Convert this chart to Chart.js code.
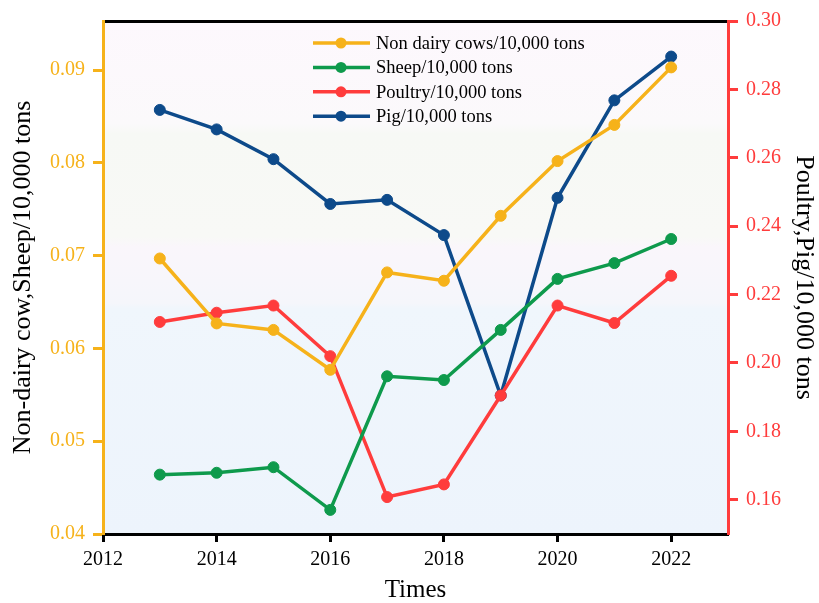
<!DOCTYPE html>
<html>
<head>
<meta charset="utf-8">
<script src="https://cdn.jsdelivr.net/npm/chart.js@4"></script>
<style>
  html, body { margin: 0; padding: 0; background: #fff; }
  #wrap { width: 819px; height: 603px; }
</style>
</head>
<body>
<div id="wrap"><canvas id="chart" width="819" height="603"></canvas></div>
<script>
// Data
const years = [2013, 2014, 2015, 2016, 2017, 2018, 2019, 2020, 2021, 2022];
const nonDairyCows = [0.0697, 0.0627, 0.0620, 0.0577, 0.0682, 0.0673, 0.0743, 0.0802, 0.0841, 0.0903];
const sheep = [0.0464, 0.0466, 0.0472, 0.0426, 0.0570, 0.0566, 0.0620, 0.0675, 0.0692, 0.0718];
const poultry = [0.212, 0.2147, 0.2168, 0.202, 0.1608, 0.1645, 0.1905, 0.2168, 0.2117, 0.2255];
const pig = [0.274, 0.2683, 0.2596, 0.2465, 0.2477, 0.2374, 0.1905, 0.2483, 0.2768, 0.2896];

const xTicks = [2012, 2014, 2016, 2018, 2020, 2022];
const leftTicks = [0.04, 0.05, 0.06, 0.07, 0.08, 0.09];
const rightTicks = [0.16, 0.18, 0.20, 0.22, 0.24, 0.26, 0.28, 0.30];

const ORANGE = '#f6b21a';
const GREEN = '#0e9a4c';
const RED = '#ff3c3c';
const BLUE = '#0d4a8a';
const FONT = '"Liberation Serif", "Times New Roman", serif';

function pts(values) {
  return values.map((v, i) => ({ x: years[i], y: v }));
}

function series(label, values, color, axis) {
  return {
    label: label,
    data: pts(values),
    yAxisID: axis,
    borderColor: color,
    backgroundColor: color,
    borderWidth: 3.5,
    pointRadius: 5.5,
    pointBorderWidth: 1,
    pointBorderColor: color,
    pointBackgroundColor: color,
    tension: 0
  };
}

// soft banded background of the plot area
const bgPlugin = {
  id: 'bg',
  beforeDraw(chart) {
    const { ctx, chartArea: a } = chart;
    const g = ctx.createLinearGradient(0, a.top, 0, a.bottom);
    g.addColorStop(0, '#fdf8fd');
    g.addColorStop(0.2, '#fbf9fb');
    g.addColorStop(0.22, '#f7f9f5');
    g.addColorStop(0.42, '#f8f9f6');
    g.addColorStop(0.44, '#faf6fb');
    g.addColorStop(0.55, '#f5f6fb');
    g.addColorStop(0.56, '#f0f6fc');
    g.addColorStop(1, '#edf4fc');
    ctx.save();
    ctx.fillStyle = g;
    ctx.fillRect(a.left, a.top, a.right - a.left, a.bottom - a.top);
    ctx.restore();
  }
};

// legend drawn inside the plot area
const innerLegend = {
  id: 'innerLegend',
  afterDraw(chart) {
    const { ctx, chartArea: a } = chart;
    const x0 = a.left + 210;
    const y0 = a.top + 22;
    ctx.save();
    ctx.font = '18.5px ' + FONT;
    ctx.textBaseline = 'middle';
    chart.data.datasets.forEach((ds, i) => {
      const y = y0 + i * 24.4;
      ctx.strokeStyle = ds.borderColor;
      ctx.lineWidth = 3.5;
      ctx.beginPath();
      ctx.moveTo(x0, y);
      ctx.lineTo(x0 + 57, y);
      ctx.stroke();
      ctx.fillStyle = ds.borderColor;
      ctx.beginPath();
      ctx.arc(x0 + 28, y, 5.5, 0, Math.PI * 2);
      ctx.fill();
      ctx.fillStyle = '#000';
      ctx.fillText(ds.label, x0 + 63, y + 1);
    });
    ctx.restore();
  }
};

new Chart(document.getElementById('chart'), {
  type: 'line',
  data: {
    datasets: [
      series('Non dairy cows/10,000 tons', nonDairyCows, ORANGE, 'yLeft'),
      series('Sheep/10,000 tons', sheep, GREEN, 'yLeft'),
      series('Poultry/10,000 tons', poultry, RED, 'yRight'),
      series('Pig/10,000 tons', pig, BLUE, 'yRight')
    ]
  },
  options: {
    responsive: false,
    animation: false,
    layout: { padding: { left: 8, right: 0, top: 21, bottom: 0 } },
    plugins: {
      legend: { display: false },
      tooltip: { enabled: false }
    },
    scales: {
      x: {
        type: 'linear',
        position: 'bottom',
        min: 2012,
        max: 2023,
        afterBuildTicks: (s) => { s.ticks = xTicks.map(v => ({ value: v })); },
        afterFit: (s) => { s.height = 69; },
        border: { color: '#000', width: 3 },
        grid: { drawOnChartArea: false, drawTicks: true, tickLength: 8, tickWidth: 3, tickColor: '#000' },
        ticks: { color: '#000', font: { family: FONT, size: 20 }, padding: 6, maxRotation: 0, callback: v => String(v) },
        title: { display: true, text: 'Times', color: '#000', font: { family: FONT, size: 25, lineHeight: 1.0 }, padding: { top: 0, bottom: 0 } }
      },
      xTop: {
        type: 'linear',
        position: 'top',
        min: 2012,
        max: 2023,
        afterFit: (s) => { s.height = 0; },
        border: { color: '#000', width: 3 },
        grid: { display: false },
        ticks: { display: false }
      },
      yLeft: {
        type: 'linear',
        position: 'left',
        min: 0.04,
        max: 0.0953,
        afterBuildTicks: (s) => { s.ticks = leftTicks.map(v => ({ value: v })); },
        afterFit: (s) => { s.width = 95; },
        border: { color: ORANGE, width: 3 },
        grid: { drawOnChartArea: false, drawTicks: true, tickLength: 10, tickWidth: 3, tickColor: ORANGE },
        ticks: { color: ORANGE, font: { family: FONT, size: 20 }, padding: 8, callback: v => v.toFixed(2) },
        title: { display: true, text: 'Non-dairy cow,Sheep/10,000 tons', color: '#000', font: { family: FONT, size: 26 }, padding: { top: 0, bottom: 0 } }
      },
      yRight: {
        type: 'linear',
        position: 'right',
        min: 0.15,
        max: 0.30,
        afterBuildTicks: (s) => { s.ticks = rightTicks.map(v => ({ value: v })); },
        afterFit: (s) => { s.width = 91; },
        border: { color: RED, width: 3 },
        grid: { drawOnChartArea: false, drawTicks: true, tickLength: 10, tickWidth: 3, tickColor: RED },
        ticks: { color: RED, font: { family: FONT, size: 20 }, padding: 8, callback: v => v.toFixed(2) },
        title: { display: true, text: 'Poultry,Pig/10,000 tons', color: '#000', font: { family: FONT, size: 26 }, padding: { top: 0, bottom: 0 } }
      }
    }
  },
  plugins: [bgPlugin, innerLegend]
});
</script>
</body>
</html>
